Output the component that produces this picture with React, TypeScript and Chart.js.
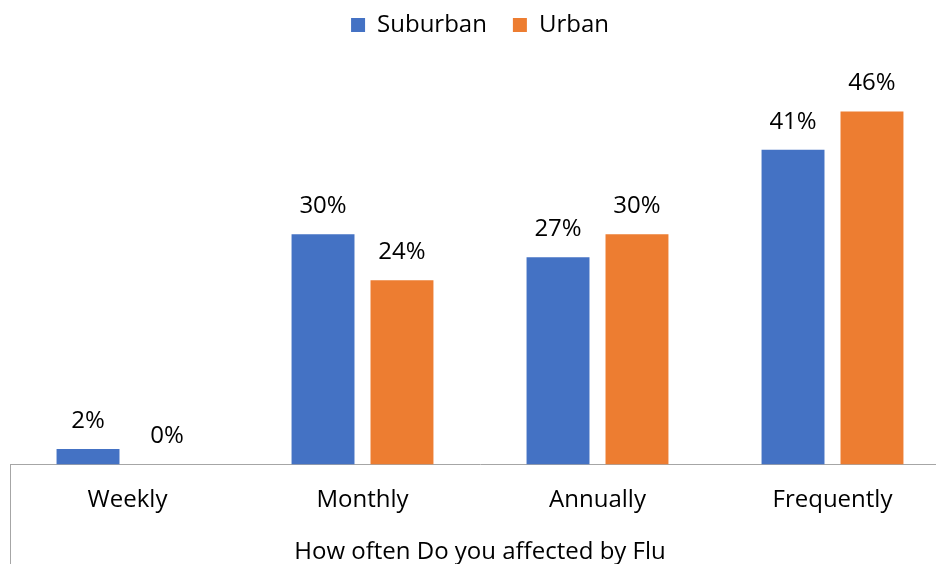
import React, { useEffect, useRef } from "react";
import { Chart, registerables } from "chart.js";

Chart.register(...registerables);

const categories = ["Weekly", "Monthly", "Annually", "Frequently"];
const seriesNames = ["Suburban", "Urban"];
const suburban = [2, 30, 27, 41];
const urban = [0, 24, 30, 46];
const axisTitle = "How often Do you affected by Flu";

const FONT = "'Open Sans', sans-serif";
const BLUE = "#4472C4";
const ORANGE = "#ED7D31";
const AXIS = "#a6a6a6";

export default function App() {
  const ref = useRef<HTMLCanvasElement>(null);

  useEffect(() => {
    if (!ref.current) return;
    const labelsPlugin = {
      id: "barLabels",
      afterDatasetsDraw(chart: any) {
        const ctx = chart.ctx;
        ctx.save();
        ctx.font = `24px ${FONT}`;
        ctx.fillStyle = "#000";
        ctx.textAlign = "center";
        ctx.textBaseline = "middle";
        chart.data.datasets.forEach((ds: any, di: number) => {
          const meta = chart.getDatasetMeta(di);
          meta.data.forEach((bar: any, i: number) => {
            ctx.fillText(`${ds.data[i]}%`, bar.x, bar.y - 28);
          });
        });
        ctx.restore();
      },
    };

    // left boundary line of the category axis, running down from the baseline
    const edgePlugin = {
      id: "axisEdge",
      afterDraw(chart: any) {
        const sx = chart.scales.x;
        const ctx = chart.ctx;
        ctx.save();
        ctx.strokeStyle = AXIS;
        ctx.lineWidth = 1;
        ctx.beginPath();
        ctx.moveTo(sx.left + 0.5, sx.top);
        ctx.lineTo(sx.left + 0.5, chart.height);
        ctx.stroke();
        ctx.restore();
      },
    };

    const font = { family: FONT, size: 24 };
    const chart = new Chart(ref.current, {
      type: "bar",
      data: {
        labels: categories,
        datasets: [
          {
            label: seriesNames[0],
            data: suburban,
            backgroundColor: BLUE,
            categoryPercentage: 0.672,
            barPercentage: 0.797,
          },
          {
            label: seriesNames[1],
            data: urban,
            backgroundColor: ORANGE,
            categoryPercentage: 0.672,
            barPercentage: 0.797,
          },
        ],
      },
      options: {
        animation: false,
        responsive: false,
        layout: { padding: { left: 10, right: 10, top: 0, bottom: 0 } },
        plugins: {
          legend: {
            position: "top",
            labels: {
              font,
              color: "#000",
              boxWidth: 14,
              boxHeight: 14,
              padding: 26,
            },
          },
          tooltip: { enabled: false },
        },
        scales: {
          x: {
            grid: { display: false },
            border: { color: AXIS, width: 1 },
            ticks: { padding: 13, font, color: "#000" },
            title: {
              display: true,
              text: axisTitle,
              font,
              color: "#000",
              padding: { top: 11, bottom: 0 },
            },
          },
          y: { display: false, min: 0, max: 54.4 },
        },
      },
      plugins: [labelsPlugin, edgePlugin],
    } as any);
    return () => chart.destroy();
  }, []);

  return (
    <div
      style={{
        position: "fixed",
        top: 0,
        left: 0,
        width: 936,
        height: 564,
        overflow: "hidden",
        background: "#fff",
      }}
    >
      <canvas
        ref={ref}
        width={960}
        height={580}
        style={{ position: "absolute", top: -13, left: 0, width: 960, height: 580 }}
      />
    </div>
  );
}
